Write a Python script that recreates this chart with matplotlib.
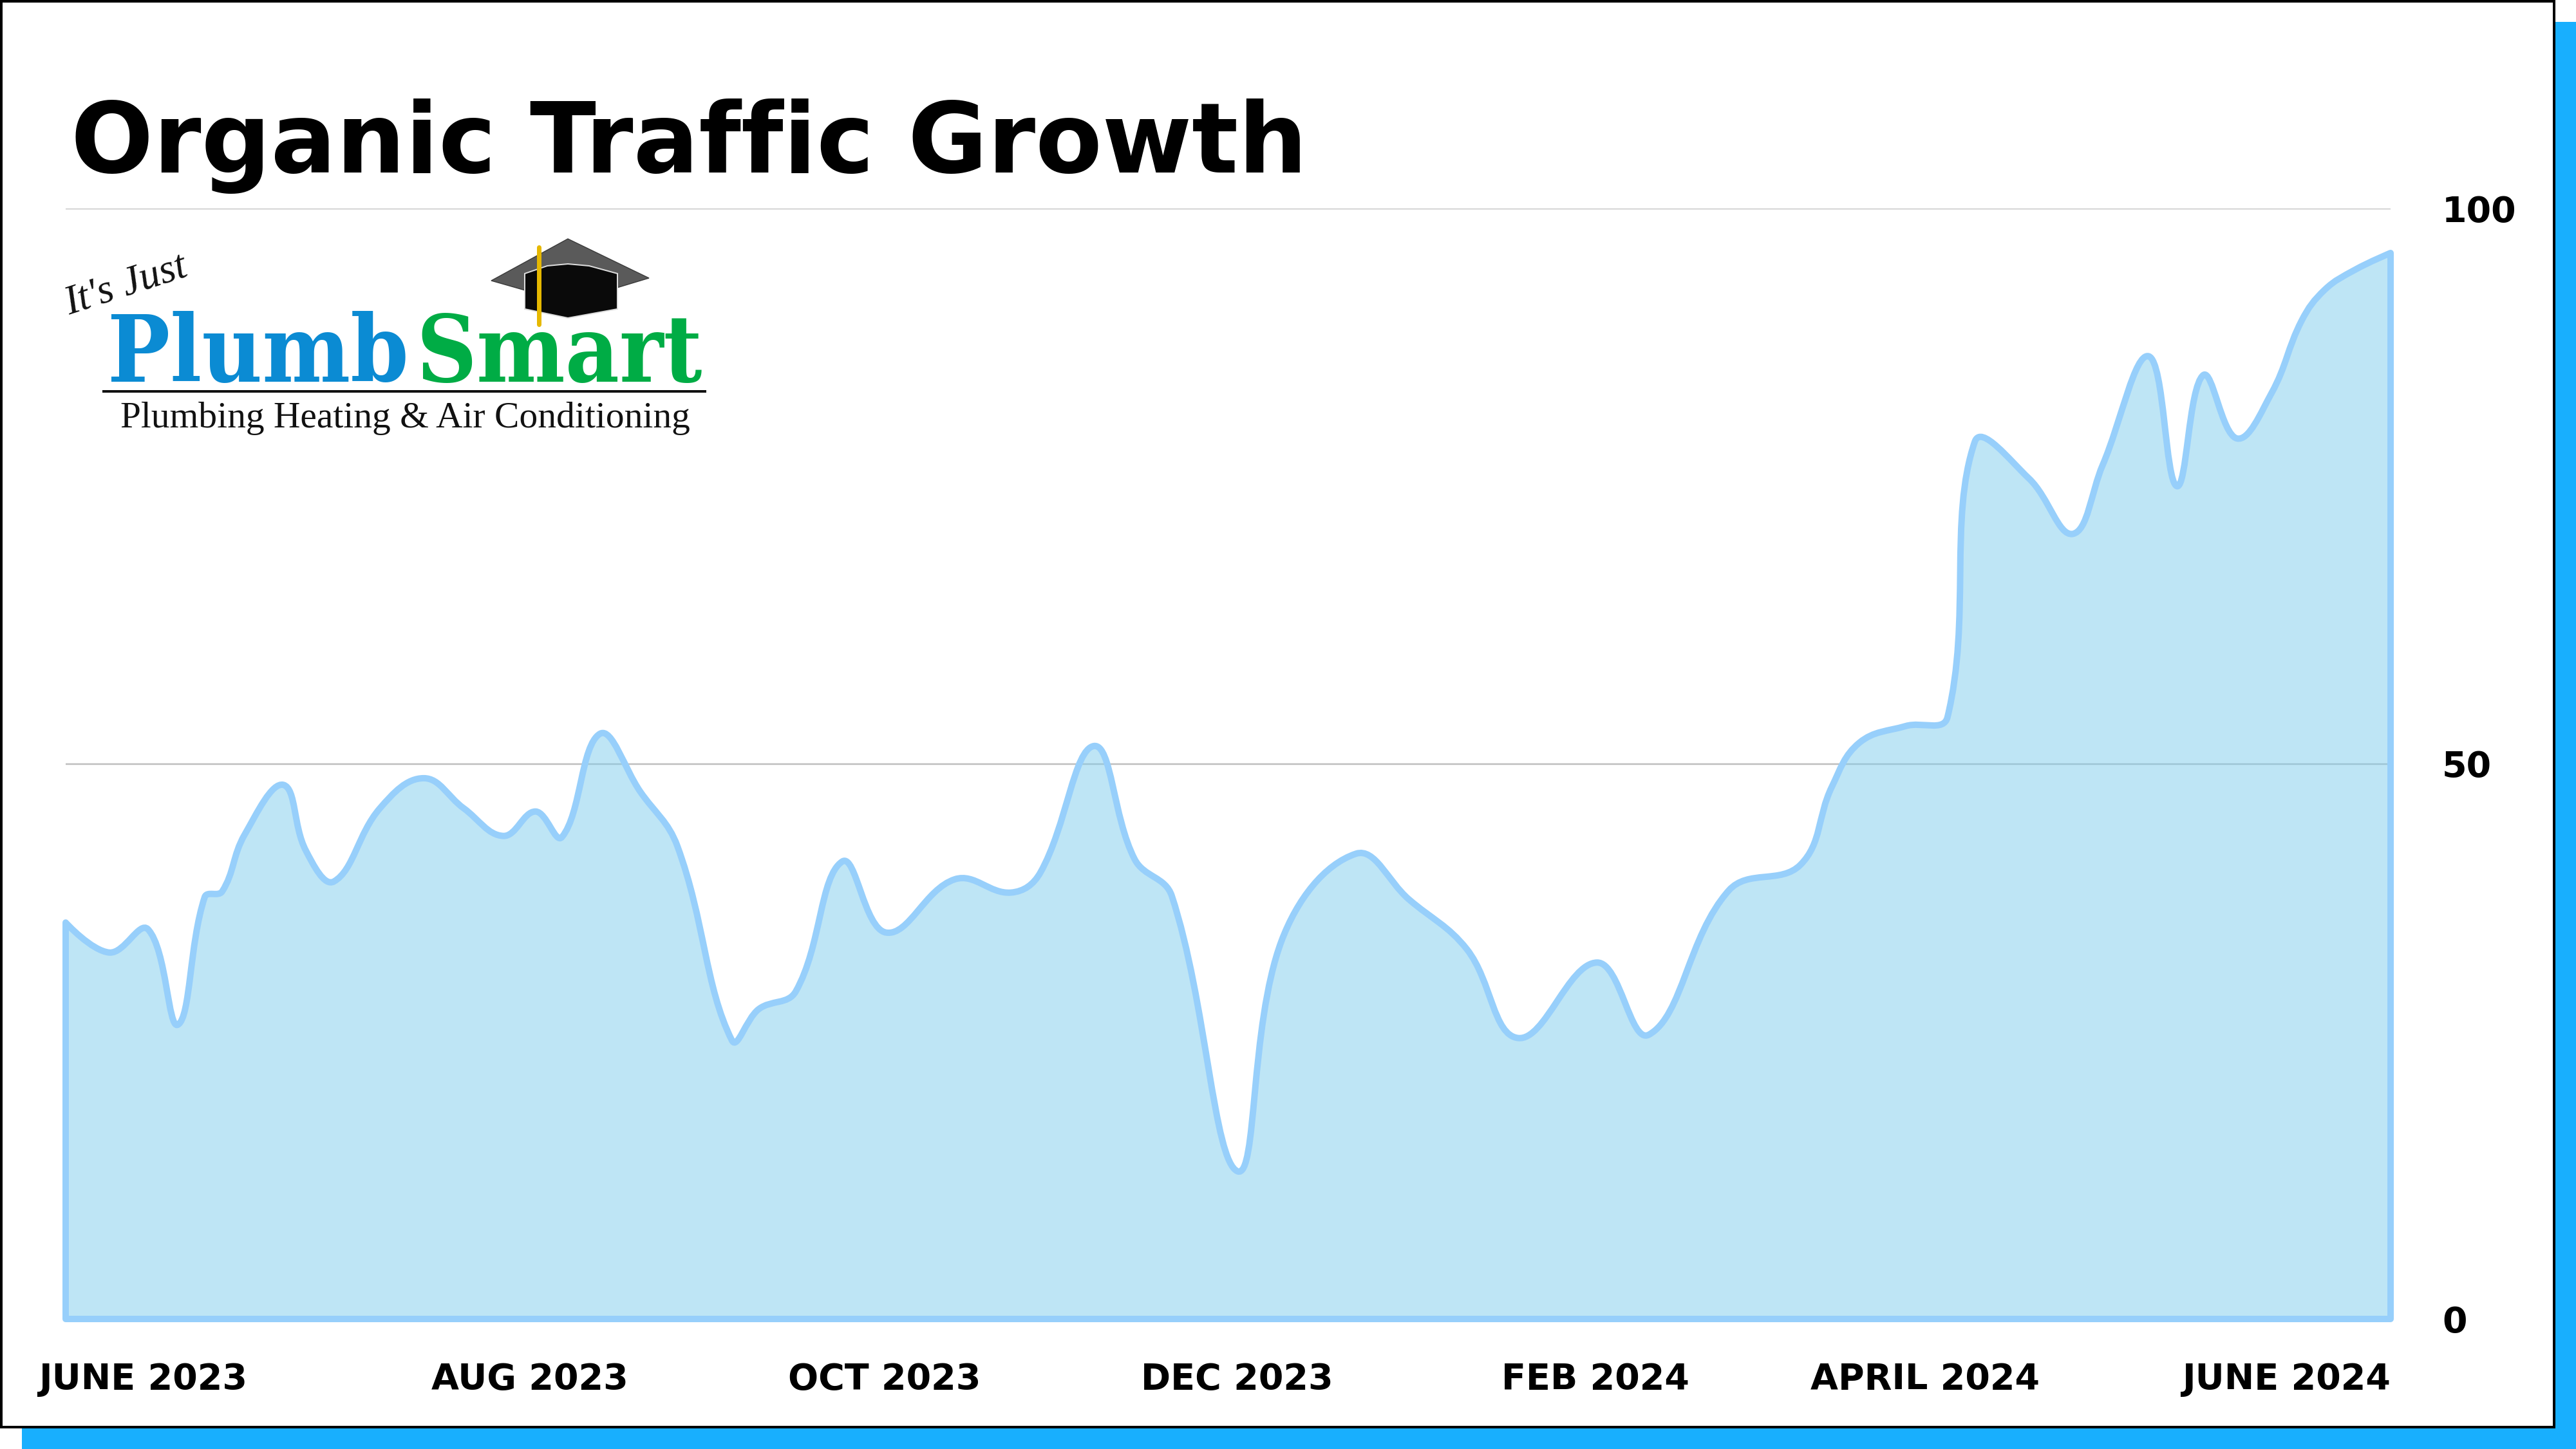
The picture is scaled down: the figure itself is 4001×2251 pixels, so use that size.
import numpy as np
import matplotlib
matplotlib.use("Agg")
import matplotlib.pyplot as plt
from matplotlib.path import Path
from matplotlib.patches import PathPatch, Rectangle, Polygon
from matplotlib.lines import Line2D
from matplotlib.transforms import Affine2D

# ---------------- data ----------------
weeks = [0.00, 0.98, 1.84, 2.51, 3.11, 3.50, 4.00, 4.87, 5.37, 6.00,
         7.03, 8.01, 8.90, 9.79, 10.51, 11.10, 11.95, 12.85, 13.68, 14.90,
         15.50, 16.33, 17.37, 18.35, 19.89, 21.14, 21.80, 23.00, 23.91, 24.74,
         26.21, 27.19, 28.86, 30.04, 31.34, 32.49, 34.25, 35.41, 37.20, 38.80,
         39.50, 40.12, 41.16, 42.09, 42.70, 43.91, 44.89, 45.56, 46.59, 47.22,
         47.81, 48.56, 49.34, 50.01, 50.53, 51.21, 52.00]
traffic = [35.7, 33.0, 35.1, 26.5, 38.0, 38.5, 43.6, 48.1, 42.2, 39.4,
           46.0, 48.7, 46.0, 43.5, 45.7, 43.4, 52.7, 47.5, 42.6, 25.1,
           27.9, 29.5, 41.2, 34.8, 39.6, 38.4, 40.2, 51.6, 41.4, 38.1,
           13.3, 34.0, 41.9, 37.8, 33.3, 25.3, 32.1, 25.6, 38.6, 40.9,
           47.9, 51.9, 53.4, 54.2, 79.0, 75.7, 70.7, 76.9, 86.7, 75.0,
           85.0, 79.3, 83.4, 89.9, 92.7, 94.5, 96.0]
tick_weeks = [1.73, 10.38, 18.32, 26.20, 34.22, 41.59, 49.67]
tick_labels = ["JUNE 2023", "AUG 2023", "OCT 2023", "DEC 2023",
               "FEB 2024", "APRIL 2024", "JUNE 2024"]
y_ticks = [0, 50, 100]
title = "Organic Traffic Growth"

# ---------------- figure ----------------
W, H, DPI = 4001, 2251, 100
fig = plt.figure(figsize=(W / DPI, H / DPI), dpi=DPI)
fig.patch.set_facecolor("white")
pix = Affine2D().scale(1 / W, -1 / H).translate(0, 1) + fig.transFigure
PT = 72 / DPI  # points per pixel

# card with shadow
fig.patches.append(Rectangle((34, 34), W - 34, H - 34, transform=pix,
                             fc="#18AFFE", ec="none", zorder=0))
fig.patches.append(Rectangle((2, 2), 3965, 2215, transform=pix,
                             fc="white", ec="black", lw=4 * PT, zorder=1))

# axes
x0, x1, ytop, ybot = 102, 3713, 324, 2049
ax = fig.add_axes([x0 / W, 1 - ybot / H, (x1 - x0) / W, (ybot - ytop) / H])
ax.set_zorder(2)
ax.patch.set_alpha(0)
ax.set_xlim(0, 52)
ax.set_ylim(0, 100)
for s in ax.spines.values():
    s.set_visible(False)

ax.set_yticks(y_ticks)
ax.yaxis.tick_right()
ax.yaxis.grid(True, color="#BEBEBE", lw=2.5 * PT)
ax.set_axisbelow(True)
ax.set_xticks(tick_weeks)
ax.set_xticklabels(tick_labels)
for t in ax.get_xticklabels() + ax.get_yticklabels():
    t.set_fontfamily("DejaVu Sans")
    t.set_fontweight("bold")
    t.set_fontsize(40)
    t.set_color("black")
ax.tick_params(axis="x", length=0, pad=67 * PT)
ax.tick_params(axis="y", length=0, pad=80 * PT)

# ---- smooth curve (Chart.js style tension spline) ----
tension = 0.4
P = ax.transData.transform(np.column_stack([weeks, traffic]))
n = len(P)
cprev = P.copy()
cnext = P.copy()
for i in range(1, n - 1):
    d01 = np.hypot(*(P[i] - P[i - 1]))
    d12 = np.hypot(*(P[i + 1] - P[i]))
    s = d01 + d12
    fa = tension * d01 / s
    fb = tension * d12 / s
    cprev[i] = P[i] - fa * (P[i + 1] - P[i - 1])
    cnext[i] = P[i] + fb * (P[i + 1] - P[i - 1])
inv = ax.transData.inverted()
Pd, cpd, cnd = inv.transform(P), inv.transform(cprev), inv.transform(cnext)
verts = [Pd[0]]
codes = [Path.MOVETO]
for i in range(1, n):
    verts += [cnd[i - 1], cpd[i], Pd[i]]
    codes += [Path.CURVE4] * 3
verts += [(weeks[-1], 0), (weeks[0], 0), Pd[0]]
codes += [Path.LINETO, Path.LINETO, Path.CLOSEPOLY]
patch = PathPatch(Path(verts, codes), fc=(0.498, 0.804, 0.929, 0.5),
                  ec="#97CFFB", lw=10 * PT, joinstyle="round",
                  capstyle="round", clip_on=False, zorder=3)
ax.add_patch(patch)

# ---------------- texts ----------------
renderer = fig.canvas.get_renderer()


def fit(t, target_w):
    w = t.get_window_extent(renderer).width
    t.set_fontsize(t.get_fontsize() * target_w / w)


tt = fig.text(110 / W, 1 - 268 / H, title, family="DejaVu Sans",
              weight="bold", size=110, va="baseline", ha="left", zorder=5)
fit(tt, 1920)

# ---------------- logo ----------------
its = fig.text(196 / W, 1 - 444 / H, "It's Just", family="Liberation Serif",
               style="italic", size=46, rotation=18, ha="center", va="center",
               color="#111111", zorder=5)
plumb = fig.text(167 / W, 1 - 593 / H, "Plumb", family="DejaVu Serif",
                 stretch="condensed", weight="bold", size=100,
                 color="#0B8BD3", va="baseline", ha="left", zorder=5)
fit(plumb, 468)
smart = fig.text(646 / W, 1 - 593 / H, "Smart", family="DejaVu Serif",
                 stretch="condensed", weight="bold", size=plumb.get_fontsize(),
                 color="#00AC45", va="baseline", ha="left", zorder=5)
fit(smart, 444)
fig.lines.append(Line2D([161, 1095], [608, 608], transform=pix,
                        color="#111111", lw=4 * PT, zorder=5))
sub = fig.text(187 / W, 1 - 664 / H, "Plumbing Heating & Air Conditioning",
               family="Liberation Serif", size=40, color="#111111",
               va="baseline", ha="left", zorder=5)
fit(sub, 884)

# graduation cap
fig.patches.append(Polygon([(763, 436), (882, 371), (1008, 432), (882, 470)],
                           closed=True, transform=pix, fc="#5A5A5A",
                           ec="#3A3A3A", lw=1, zorder=5))
fig.patches.append(Polygon([(815, 425), (850, 413), (882, 410), (915, 413),
                            (959, 425), (959, 480), (882, 494), (815, 480)],
                           closed=True, transform=pix, fc="#0A0A0A",
                           ec="#DDDDDD", lw=2 * PT, zorder=6))
fig.lines.append(Line2D([837, 837, 837], [384, 410, 504], transform=pix,
                        color="#E6B800", lw=7 * PT, zorder=7,
                        solid_capstyle="round"))

fig.savefig("out.png", dpi=DPI, facecolor="white")
